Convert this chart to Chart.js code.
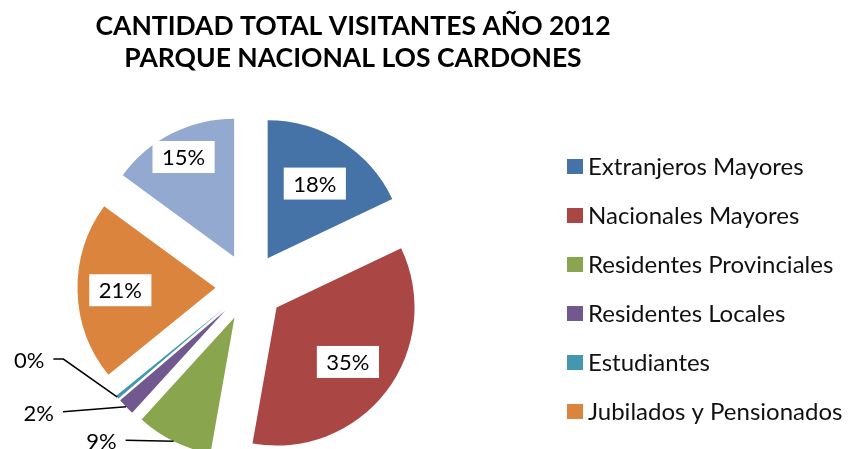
<!DOCTYPE html>
<html lang="es">
<head>
<meta charset="utf-8">
<title>Cantidad total visitantes 2012</title>
<script src="https://cdn.jsdelivr.net/npm/chart.js@4.4.1/dist/chart.umd.min.js"></script>
<style>
  html, body { margin: 0; padding: 0; background: #fff; }
  #wrap { position: relative; width: 851px; height: 449px; }
</style>
</head>
<body>
<div id="wrap"><canvas id="grafico"></canvas></div>
<script>
// datos (porcentaje del total)
const categorias = [
  "Extranjeros Mayores", "Nacionales Mayores", "Residentes Provinciales",
  "Residentes Locales", "Estudiantes", "Jubilados y Pensionados", "Menores",
];
const porcentajes = [18, 35, 9, 2, 0.4, 21, 15];
const colores = ["#4572A7", "#AA4643", "#89A54E", "#71588F", "#4198AF", "#DB843D", "#93A9CF"];
const titulo = ["CANTIDAD TOTAL VISITANTES AÑO 2012", "PARQUE NACIONAL LOS CARDONES"];

const FUENTE = "Lato, 'Open Sans', sans-serif";
const SEPARACION = 34; // desplazamiento de cada porción (pastel "explotado")

function puntoMedio(arc, dist) {
  const mid = (arc.startAngle + arc.endAngle) / 2;
  return { x: arc.x + Math.cos(mid) * dist, y: arc.y + Math.sin(mid) * dist };
}

// dibuja cada porción desplazada desde el centro
const explotar = {
  id: "explotar",
  beforeDatasetDraw(chart, args) {
    const ctx = chart.ctx;
    args.meta.data.forEach((arc) => {
      const p = puntoMedio(arc, SEPARACION);
      ctx.save();
      ctx.translate(p.x - arc.x, p.y - arc.y);
      arc.draw(ctx);
      ctx.restore();
    });
    return false;
  },
};

// rótulos de porcentaje (caja blanca dentro, o con línea guía afuera)
const rotulos = {
  id: "rotulos",
  afterDatasetsDraw(chart, args, opts) {
    const ctx = chart.ctx;
    const meta = chart.getDatasetMeta(0);
    const total = porcentajes.reduce((a, b) => a + b, 0);
    ctx.save();
    ctx.font = "22px " + FUENTE;
    ctx.textBaseline = "middle";
    meta.data.forEach((arc, i) => {
      const txt = Math.round(porcentajes[i] / total * 100) + "%";
      const guia = opts.guias[i];
      if (guia) {
        const p = puntoMedio(arc, SEPARACION + arc.outerRadius);
        let x = p.x, y = p.y;
        ctx.beginPath();
        ctx.moveTo(x, y);
        guia.forEach(([dx, dy]) => { x += dx; y += dy; ctx.lineTo(x, y); });
        ctx.strokeStyle = "#000";
        ctx.lineWidth = 1.5;
        ctx.stroke();
        ctx.fillStyle = "#000";
        ctx.textAlign = "right";
        ctx.fillText(txt, x - 9, y + 2);
      } else {
        const p = puntoMedio(arc, SEPARACION + arc.outerRadius * opts.radio[i]);
        const w = ctx.measureText(txt).width + 19, h = 32;
        ctx.fillStyle = "#fff";
        ctx.fillRect(p.x - w / 2, p.y - h / 2, w, h);
        ctx.fillStyle = "#000";
        ctx.textAlign = "center";
        ctx.fillText(txt, p.x, p.y + 1);
      }
    });
    ctx.restore();
  },
};

// leyenda a la derecha (el último elemento queda fuera, como en el original)
const leyenda = {
  id: "leyenda",
  afterDraw(chart, args, opts) {
    const ctx = chart.ctx;
    const ds = chart.data.datasets[0];
    ctx.save();
    ctx.font = opts.size + "px " + FUENTE;
    ctx.textBaseline = "middle";
    ctx.textAlign = "left";
    chart.data.labels.slice(0, opts.items).forEach((label, i) => {
      const y = opts.top + i * opts.step;
      ctx.fillStyle = ds.backgroundColor[i];
      ctx.fillRect(opts.x, y - 7.5, 16, 15);
      ctx.fillStyle = "#111";
      ctx.fillText(label, opts.x + 21, y + 1);
    });
    ctx.restore();
  },
};

// el título se centra sobre el gráfico + leyenda, no sólo sobre el área del pastel
const anchoTitulo = {
  id: "anchoTitulo",
  afterLayout(chart, args, opts) {
    const t = chart.titleBlock;
    if (!t) return;
    t.left = 0;
    t.right = opts.right;
    t.width = opts.right;
  },
};

new Chart(document.getElementById("grafico"), {
  type: "pie",
  data: {
    labels: categorias,
    datasets: [{
      data: porcentajes,
      backgroundColor: colores,
      borderWidth: 0,
      hoverOffset: 0,
    }],
  },
  options: {
    responsive: true,
    maintainAspectRatio: false,
    animation: false,
    radius: 138,
    layout: { padding: { right: 352 } },
    events: [],
    plugins: {
      legend: { display: false },
      tooltip: { enabled: false },
      title: {
        display: true,
        text: titulo,
        color: "#000",
        font: { family: FUENTE, size: 26.5, weight: "bold", lineHeight: 32 / 26.5 },
        padding: { top: 10, bottom: 51 },
      },
      anchoTitulo: { right: 706 },
      rotulos: {
        radio: [0.64, 0.65, 0, 0, 0, 0.69, 0.81],
        guias: { 2: [[-48, -1]], 3: [[-63, 5]], 4: [[-54, -38], [-10, 0]] },
      },
      leyenda: { x: 567, top: 166.5, step: 49, items: 6, size: 24 },
    },
  },
  plugins: [explotar, rotulos, leyenda, anchoTitulo],
});
</script>
</body>
</html>
